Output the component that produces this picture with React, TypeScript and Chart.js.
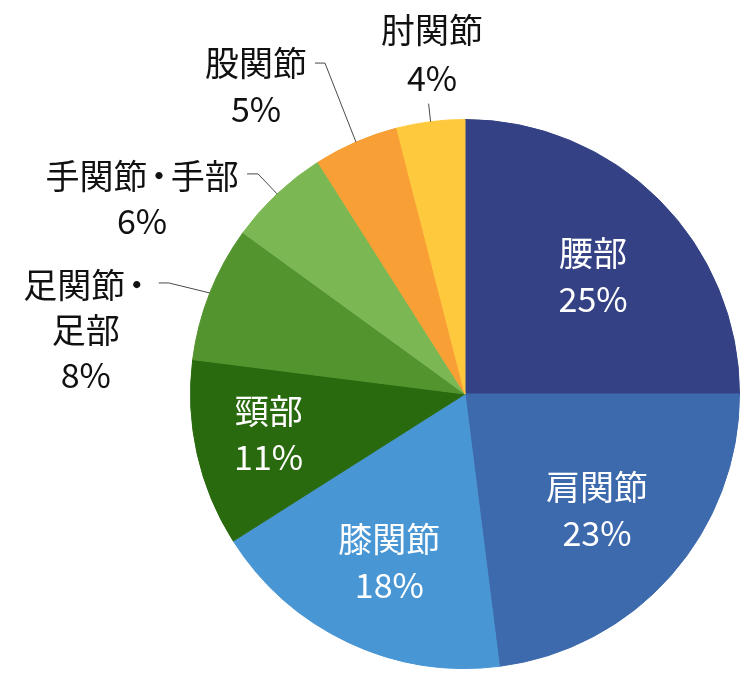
import React, { useEffect, useRef } from "react";
import { Chart, registerables } from "chart.js";

Chart.register(...registerables);

// ---- data ----
const categories = ["腰部", "肩関節", "膝関節", "頸部", "足関節・足部", "手関節・手部", "股関節", "肘関節"];
const values = [25, 23, 18, 11, 8, 6, 5, 4];
// how each category name is broken into lines in its label
const labelLines = [["腰部"], ["肩関節"], ["膝関節"], ["頸部"], ["足関節・", "足部"], ["手関節・手部"], ["股関節"], ["肘関節"]];
const colors = ["#344285", "#3d6aad", "#4996d4", "#296a0e", "#53942f", "#7bb753", "#f89f35", "#ffc93d"];

// ---- label layout (style only) ----
type InStyle = { mode: "in"; r: number; da: number };
type OutStyle = { mode: "out"; text: [number, number]; elbow: [number, number]; end: [number, number]; lh: number };
const labelStyle: (InStyle | OutStyle)[] = [
  { mode: "in", r: 0.635, da: 2.3 },
  { mode: "in", r: 0.64, da: -0.1 },
  { mode: "in", r: 0.67, da: -0.9 },
  { mode: "in", r: 0.73, da: 1.1 },
  { mode: "out", text: [-124, -8], elbow: [-41, -10], end: [-51, -10], lh: 45 },
  { mode: "out", text: [-135, -18], elbow: [-19, -20], end: [-30, -20], lh: 45 },
  { mode: "out", text: [-100, -79], elbow: [-31, -79], end: [-41, -79], lh: 46 },
  { mode: "out", text: [1.5, -92], elbow: [-2, -18], end: [-2, -18], lh: 48 },
];

const FONT_PX = 34;
const FONT = FONT_PX + 'px "Noto Sans CJK JP", "Noto Sans CJK SC", sans-serif';
const DOT = "・";
const DOT_ADV = 0.68; // proportional width of the middle dot, in em

function drawLine(ctx: CanvasRenderingContext2D, text: string, cx: number, cy: number) {
  const parts = text.split(DOT);
  const dotW = FONT_PX * DOT_ADV;
  const widths = parts.map((p) => ctx.measureText(p).width);
  const total = widths.reduce((a, b) => a + b, 0) + (parts.length - 1) * dotW;
  let x = cx - total / 2;
  parts.forEach((p, i) => {
    ctx.textAlign = "left";
    if (p) ctx.fillText(p, x, cy);
    x += widths[i];
    if (i < parts.length - 1) {
      ctx.textAlign = "center";
      ctx.fillText(DOT, x + dotW / 2, cy);
      x += dotW;
    }
  });
}

const labelPlugin = {
  id: "pieLabels",
  afterDatasetsDraw(chart: any) {
    const ctx: CanvasRenderingContext2D = chart.ctx;
    const meta = chart.getDatasetMeta(0);
    const total = values.reduce((a, b) => a + b, 0);
    ctx.save();
    ctx.font = FONT;
    ctx.textBaseline = "middle";
    meta.data.forEach((el: any, i: number) => {
      const p = el.getProps(["x", "y", "startAngle", "endAngle", "outerRadius"], true);
      const mid = (p.startAngle + p.endAngle) / 2;
      const R = p.outerRadius;
      const pct = Math.round((values[i] / total) * 100) + "%";
      const lines = [...labelLines[i], pct];
      const st = labelStyle[i];
      if (st.mode === "in") {
        const a = mid + (st.da * Math.PI) / 180;
        const cx = p.x + Math.cos(a) * R * st.r;
        const cy = p.y + Math.sin(a) * R * st.r;
        const lh = 46;
        ctx.fillStyle = "#ffffff";
        lines.forEach((t, k) => {
          drawLine(ctx, t, cx, cy + (k - (lines.length - 1) / 2) * lh);
        });
      } else {
        const px = p.x + Math.cos(mid) * R;
        const py = p.y + Math.sin(mid) * R;
        ctx.strokeStyle = "#4a4a4a";
        ctx.lineWidth = 1;
        ctx.beginPath();
        ctx.moveTo(px, py);
        ctx.lineTo(px + st.elbow[0], py + st.elbow[1]);
        ctx.lineTo(px + st.end[0], py + st.end[1]);
        ctx.stroke();
        ctx.fillStyle = "#111111";
        const tx = px + st.text[0];
        const ty = py + st.text[1];
        lines.forEach((t, k) => {
          drawLine(ctx, t, tx, ty + k * st.lh);
        });
      }
    });
    ctx.restore();
  },
};

export default function App() {
  const ref = useRef<HTMLCanvasElement | null>(null);
  useEffect(() => {
    if (!ref.current) return;
    const chart = new Chart(ref.current, {
      type: "pie",
      data: {
        labels: categories,
        datasets: [
          {
            data: values,
            backgroundColor: colors,
            borderColor: colors,
            borderWidth: 1,
            hoverOffset: 0,
            offset: 0,
          },
        ],
      },
      options: {
        responsive: false,
        animation: false,
        events: [],
        layout: { padding: { left: 190, right: 10, top: 119, bottom: 11 } },
        plugins: {
          legend: { display: false },
          tooltip: { enabled: false },
        },
      },
      plugins: [labelPlugin],
    });
    if ((document as any).fonts && (document as any).fonts.load) {
      (document as any).fonts.load(FONT, "腰部関節25%").then(() => chart.update()).catch(() => {});
    }
    return () => chart.destroy();
  }, []);
  return (
    <div style={{ position: "fixed", left: 0, top: 0, width: 750, height: 680, background: "#ffffff" }}>
      <canvas ref={ref} width={750} height={680} style={{ display: "block", width: 750, height: 680 }} />
    </div>
  );
}
